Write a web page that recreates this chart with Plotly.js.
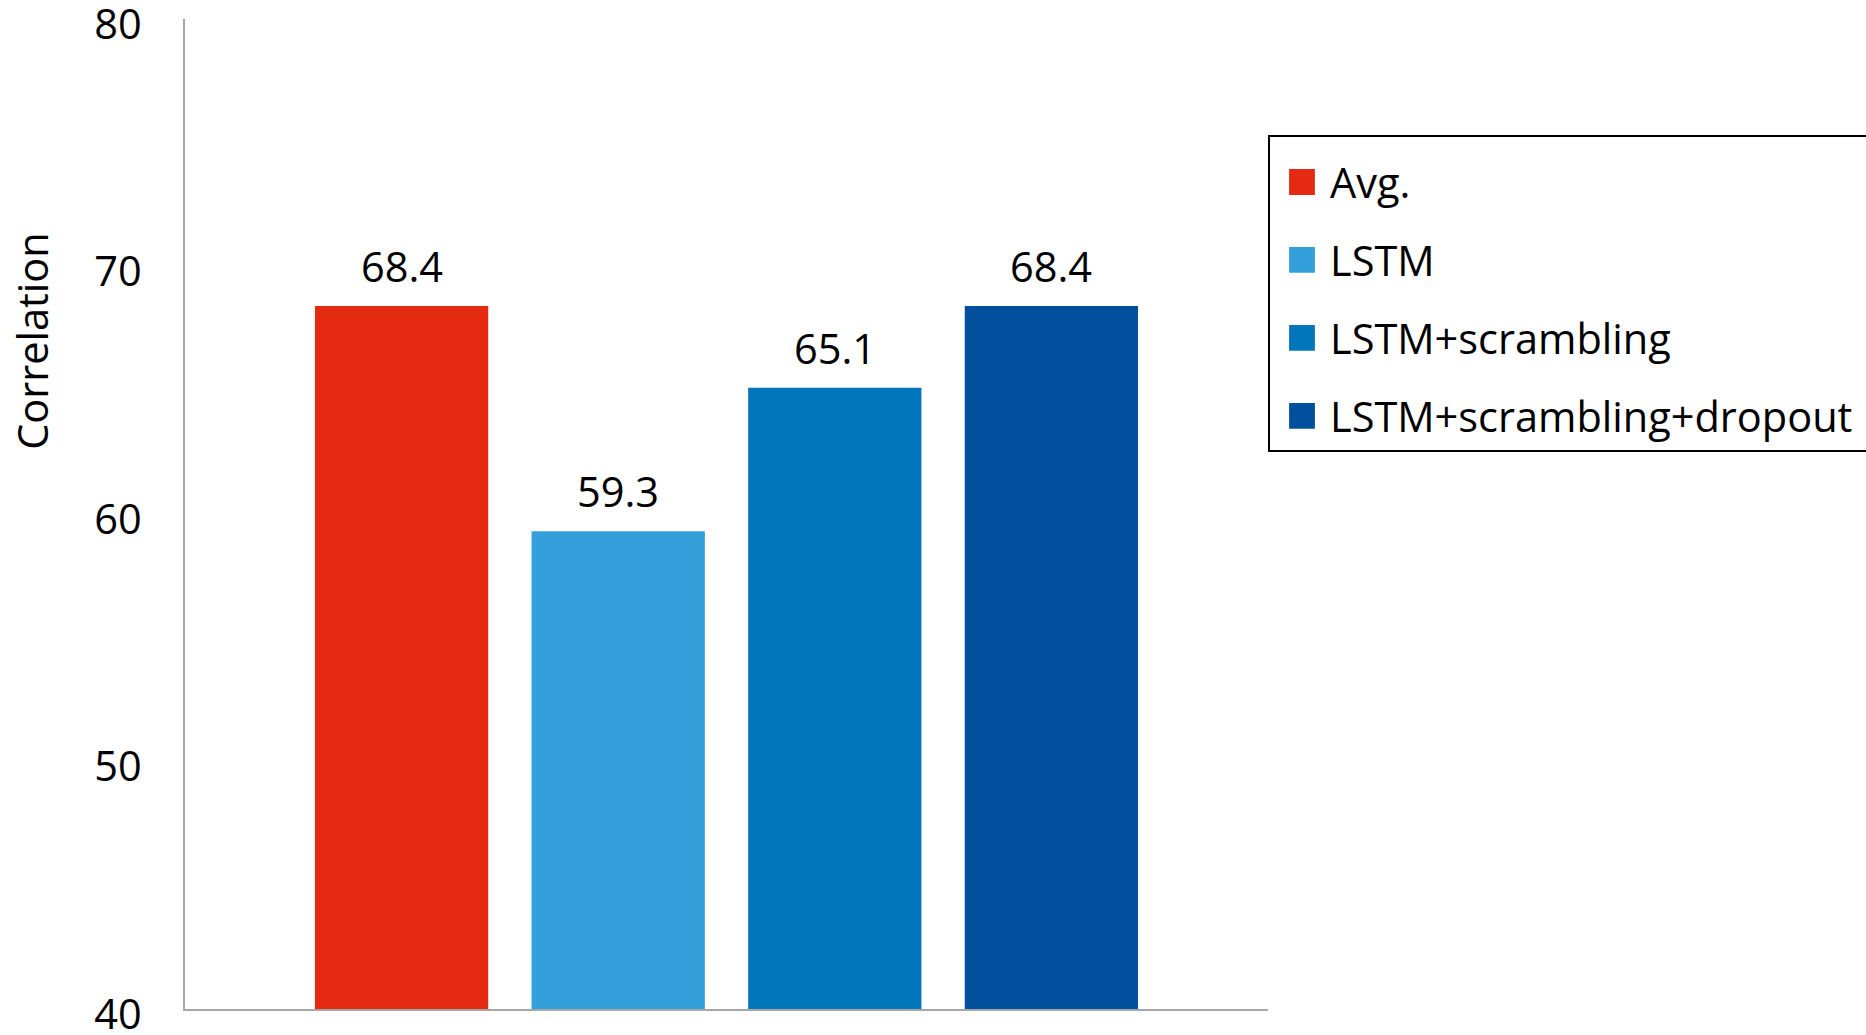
<!DOCTYPE html>
<html>
<head>
<meta charset="utf-8">
<script src="https://cdn.plot.ly/plotly-3.0.1.min.js"></script>
<style>
  html, body { margin: 0; padding: 0; background: #fff; }
  #chart { width: 1866px; height: 1035px; }
</style>
</head>
<body>
<div id="chart"></div>
<script>
// Model names and their correlation scores
const seriesNames = ["Avg.", "LSTM", "LSTM+scrambling", "LSTM+scrambling+dropout"];
const seriesValues = [68.4, 59.3, 65.1, 68.4];
const seriesColors = ["#E52A12", "#339FDB", "#0176BA", "#024F9E"];
const yTicks = [40, 50, 60, 70, 80];
const yTitle = "Correlation";

const FONT = "Open Sans, sans-serif";
const FS = 41.5;

const traces = seriesNames.map((name, i) => ({
  type: "bar",
  name: name,
  legendgroup: "g" + i,
  x: [i],
  y: [seriesValues[i]],
  width: 0.8,
  marker: { color: seriesColors[i], line: { width: 0 } },
  hoverinfo: "skip"
}));

// value labels above each bar
const valueLabels = seriesValues.map((v, i) => ({
  x: i, y: v, xref: "x", yref: "y",
  text: v.toFixed(1),
  showarrow: false,
  yanchor: "middle",
  yshift: 40,
  font: { family: FONT, size: FS, color: "#000" }
}));

const titleLabel = {
  xref: "paper", yref: "paper",
  x: -0.1407, y: 0.6745,
  xanchor: "center", yanchor: "middle",
  text: yTitle, textangle: -90, showarrow: false,
  font: { family: FONT, size: FS, color: "#000" }
};

const layout = {
  width: 1866, height: 1035,
  margin: { l: 184.5, r: 597.5, t: 18.6, b: 26, autoexpand: false },
  paper_bgcolor: "#fff", plot_bgcolor: "#fff",
  font: { family: FONT, color: "#000" },
  barmode: "overlay",
  showlegend: true,
  legend: {
    x: 1, xanchor: "left",
    y: 0.883, yanchor: "top",
    bordercolor: "#000", borderwidth: 2,
    bgcolor: "#fff",
    title: { text: " ", font: { size: 9 } },
    font: { family: FONT, size: FS, color: "#000" },
    traceorder: "grouped",
    tracegroupgap: 21,
    itemwidth: 50
  },
  xaxis: {
    range: [-1, 4],
    showticklabels: false, ticks: "", showgrid: false, zeroline: false,
    showline: true, linecolor: "#A6A6A6", linewidth: 2, fixedrange: true
  },
  yaxis: {
    range: [40, 80],
    tickvals: yTicks, ticktext: yTicks.map(String),
    ticks: "", showgrid: false, zeroline: false,
    showline: true, linecolor: "#A6A6A6", linewidth: 2,
    ticklabelstandoff: 33,
    ticklabelshift: 5,
    ticklabeloverflow: "allow",
    tickfont: { family: FONT, size: FS, color: "#000" },
    fixedrange: true
  },
  annotations: valueLabels.concat([titleLabel])
};

Plotly.newPlot("chart", traces, layout, { displayModeBar: false, staticPlot: true }).then(() => {
  // larger square legend swatches, and a legend box running off the right edge
  document.querySelectorAll(".legend .legendpoints path").forEach(p => {
    p.setAttribute("transform", "translate(32,0) scale(2.15)");
  });
  document.querySelectorAll(".legend rect.bg").forEach(r => {
    r.setAttribute("width", "700");
  });
});
</script>
</body>
</html>
